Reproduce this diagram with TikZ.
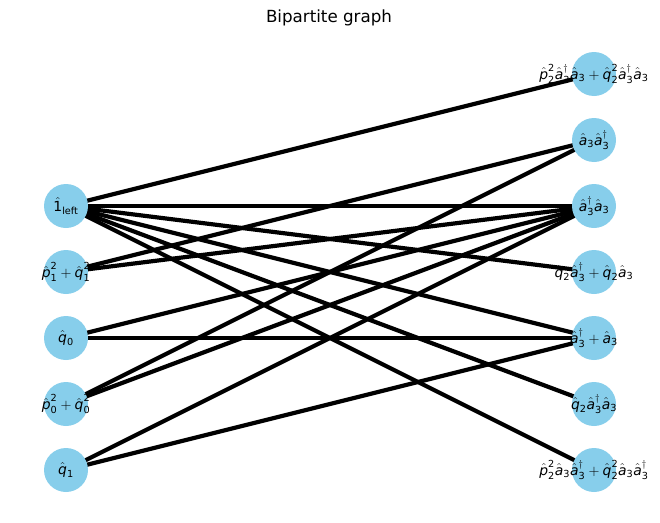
\documentclass[tikz,border=0pt]{standalone}
\usepackage{amsmath}
\usepackage{fontspec}
\setmainfont{DejaVu Sans}
\definecolor{skyblue}{HTML}{87CEEB}
\newcommand\ah{\hat{\text{\itshape a}}}
\newcommand\ph{\hat{\text{\itshape p}}}
\newcommand\qh{\hat{\text{\itshape q}}}
\newcommand\D[1]{\text{#1}}
\begin{document}
\begin{tikzpicture}[x=1pt,y=-1pt,
  vert/.style={circle,fill=skyblue,minimum size=44pt,inner sep=0pt},
  lab/.style={font=\fontsize{13.9}{16}\selectfont,inner sep=0pt},
  edge/.style={line width=4.2pt,black}]
\useasboundingbox (0,0) rectangle (660,522);
\node[font=\fontsize{16.7}{20}\selectfont] (title) at (329,18) {Bipartite graph};
% left
\coordinate (L1) at (66,206);
\coordinate (L2) at (66,272);
\coordinate (L3) at (66,338);
\coordinate (L4) at (66,404);
\coordinate (L5) at (66,470);
% right
\coordinate (R1) at (594,74);
\coordinate (R2) at (594,140);
\coordinate (R3) at (594,206);
\coordinate (R4) at (594,272);
\coordinate (R5) at (594,338);
\coordinate (R6) at (594,404);
\coordinate (R7) at (594,470);
% edges
\foreach \r in {R1,R3,R4,R5,R6,R7} \draw[edge] (L1) -- (\r);
\foreach \r in {R2,R3} \draw[edge] (L2) -- (\r);
\foreach \r in {R3,R5} \draw[edge] (L3) -- (\r);
\foreach \r in {R2,R3} \draw[edge] (L4) -- (\r);
\foreach \r in {R3,R5} \draw[edge] (L5) -- (\r);
% nodes
\foreach \n in {L1,L2,L3,L4,L5,R1,R2,R3,R4,R5,R6,R7} \node[vert] (c\n) at (\n) {};
% labels
\node[lab] (tL1) at (L1) {$\hat{\text{1}}_{\text{left}}$};
\node[lab] (tL2) at (L2) {$\ph^{\D2}_{\D1}+\qh^{\D2}_{\D1}$};
\node[lab] (tL3) at (L3) {$\qh_{\D0}$};
\node[lab] (tL4) at (L4) {$\ph^{\D2}_{\D0}+\qh^{\D2}_{\D0}$};
\node[lab] (tL5) at (L5) {$\qh_{\D1}$};
\node[lab] (tR1) at (R1) {$\ph^{\D2}_{\D2}\ah^{\dagger}_{\D3}\ah_{\D3}+\qh^{\D2}_{\D2}\ah^{\dagger}_{\D3}\ah_{\D3}$};
\node[lab] (tR2) at (R2) {$\ah_{\D3}\ah^{\dagger}_{\D3}$};
\node[lab] (tR3) at (R3) {$\ah^{\dagger}_{\D3}\ah_{\D3}$};
\node[lab] (tR4) at (R4) {$\qh_{\D2}\ah^{\dagger}_{\D3}+\qh_{\D2}\ah_{\D3}$};
\node[lab] (tR5) at (R5) {$\ah^{\dagger}_{\D3}+\ah_{\D3}$};
\node[lab] (tR6) at (R6) {$\qh_{\D2}\ah^{\dagger}_{\D3}\ah_{\D3}$};
\node[lab] (tR7) at (R7) {$\ph^{\D2}_{\D2}\ah_{\D3}\ah^{\dagger}_{\D3}+\qh^{\D2}_{\D2}\ah_{\D3}\ah^{\dagger}_{\D3}$};
\end{tikzpicture}
\end{document}
